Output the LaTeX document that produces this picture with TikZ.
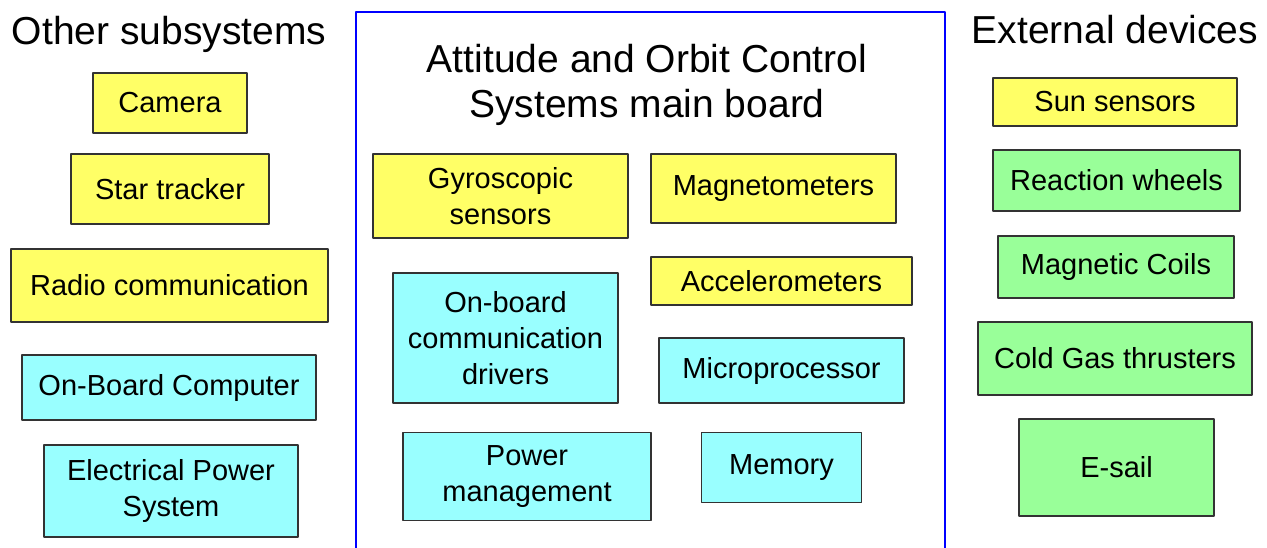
\documentclass[tikz,border=0pt]{standalone}
\usepackage{fontspec}
\setmainfont{Liberation Sans}
\definecolor{ylw}{HTML}{FFFF66}
\definecolor{cyn}{HTML}{99FFFF}
\definecolor{grn}{HTML}{99FF99}
\begin{document}
\begin{tikzpicture}[x=0.5pt,y=-0.5pt,line join=round,
  box/.style={draw=black!80,line width=0.75pt,inner sep=0pt,align=center,font=\fontsize{14.5}{18}\selectfont},
  ybox/.style={box,fill=ylw},cbox/.style={box,fill=cyn},gbox/.style={box,fill=grn},
  wh/.style 2 args={minimum width=#1*0.5pt,minimum height=#2*0.5pt},
  ttl/.style={align=center,font=\fontsize{19.5}{22.5}\selectfont}]
\useasboundingbox (0,0) rectangle (1267,547);
% main board frame, open at the bottom
\draw[blue,line width=1pt] (356,550)--(356,12)--(945,12)--(945,550);
\node[ttl] (tother) at (169,34) {Other subsystems};
\node[ttl] (taocs) at (647,85) {Attitude and Orbit Control\\Systems main board};
\node[ttl] (text) at (1115,30) {External devices};
% other subsystems
\node[ybox,wh={154}{60}] (cam) at (170,103) {Camera};
\node[ybox,wh={198}{70}] (star) at (170,189) {Star tracker};
\node[ybox,wh={317}{73}] (radio) at (169.5,285.5) {Radio communication};
\node[cbox,wh={294}{65}] (obc) at (169,387.5) {On-Board Computer};
\node[cbox,wh={254}{92}] (eps) at (171,491) {Electrical Power\\System};
% main board
\node[ybox,wh={255}{84}] (gyro) at (500.5,196) {Gyroscopic\\sensors};
\node[ybox,wh={245}{69}] (magn) at (773.5,188.5) {Magnetometers};
\node[ybox,wh={261}{48}] (acc) at (781.5,281) {Accelerometers};
\node[cbox,wh={225}{130}] (comm) at (505.5,338) {On-board\\communication\\drivers};
\node[cbox,wh={245}{65}] (mproc) at (781.5,370.5) {Microprocessor};
\node[cbox,wh={248}{88}] (pwr) at (527,476.5) {Power\\management};
\node[cbox,wh={160}{70}] (mem) at (781.5,467.5) {Memory};
% external devices
\node[ybox,wh={244}{48}] (sun) at (1115,102) {Sun sensors};
\node[gbox,wh={247}{61}] (rw) at (1116.5,180.5) {Reaction wheels};
\node[gbox,wh={236}{62}] (coil) at (1116,267) {Magnetic Coils};
\node[gbox,wh={274}{73}] (cgt) at (1115,358.5) {Cold Gas thrusters};
\node[gbox,wh={195}{97}] (esail) at (1116.5,467.5) {E-sail};
\end{tikzpicture}
\end{document}
